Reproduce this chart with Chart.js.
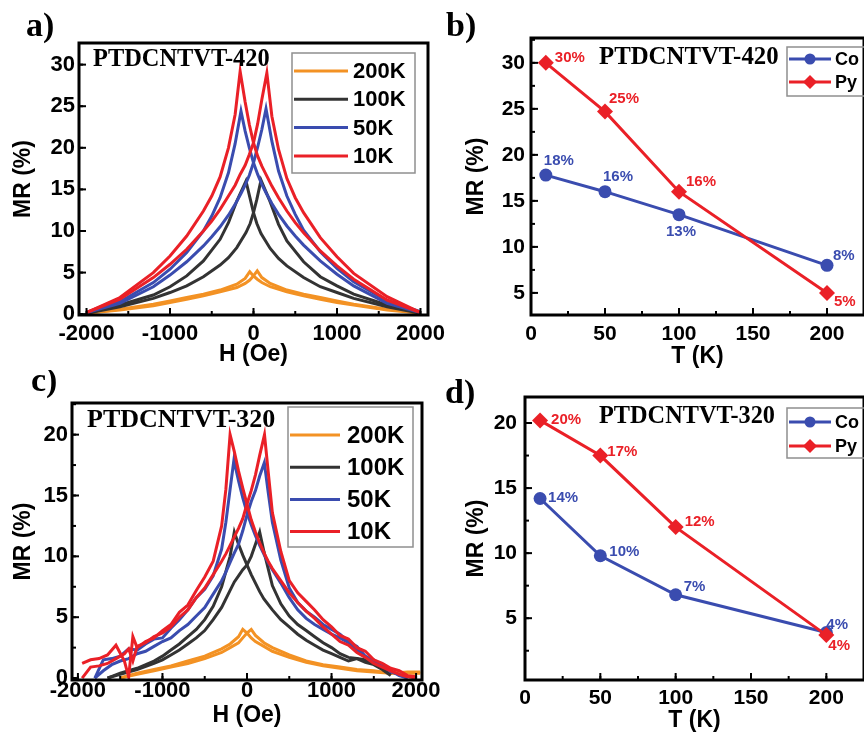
<!DOCTYPE html>
<html>
<head>
<meta charset="utf-8">
<title>MR of PTDCNTVT devices</title>
<script src="https://cdn.jsdelivr.net/npm/chart.js@4.4.1/dist/chart.umd.min.js"></script>
<style>
  html, body { margin: 0; padding: 0; background: #fff; }
  body { width: 864px; height: 735px; overflow: hidden; position: relative; }
  canvas { position: absolute; }
</style>
</head>
<body>
<canvas id="chartA" width="460" height="370" style="left:0;top:0"></canvas>
<canvas id="chartB" width="440" height="370" style="left:432px;top:0"></canvas>
<canvas id="chartC" width="460" height="365" style="left:0;top:370px"></canvas>
<canvas id="chartD" width="440" height="365" style="left:432px;top:370px"></canvas>
<script>
// ---- panel a: PTDCNTVT-420, MR vs H (two sweeps per temperature) ----
const fieldA200 = [-2000,-1600,-1200,-1000,-800,-600,-400,-200,-100,-45,0,45,100,200,400,600,800,1000,1200,1600,2000];
const mrA200Down = [0.1,0.6,1.2,1.6,2.0,2.4,2.9,3.6,4.3,5.1,4.6,4.2,3.8,3.3,2.7,2.2,1.8,1.4,1.1,0.5,0.1];
const mrA200Up   = [0.1,0.5,1.0,1.4,1.8,2.2,2.7,3.2,3.7,4.1,4.6,5.2,4.4,3.7,2.9,2.4,2.0,1.6,1.2,0.6,0.2];

const fieldA100 = [-2000,-1600,-1200,-1000,-800,-600,-400,-300,-200,-90,-40,0,40,90,200,300,400,600,800,1000,1200,1600,2000];
const mrA100Down = [0.1,1.1,2.3,3.3,4.6,6.4,9.0,11.0,13.6,16.0,13.9,12.2,10.9,9.7,7.9,6.7,5.8,4.4,3.3,2.6,1.9,0.9,0.1];
const mrA100Up   = [0.1,0.9,1.9,2.6,3.4,4.5,5.9,6.8,8.0,9.8,10.9,12.2,13.8,16.1,13.5,10.8,8.8,6.3,4.5,3.4,2.4,1.1,0.2];

const fieldA50 = [-2000,-1600,-1200,-1000,-800,-600,-500,-400,-300,-220,-150,-100,-50,0,50,100,150,220,300,400,500,600,800,1000,1200,1600,2000];
const mrA50Down = [0.2,1.5,3.8,5.4,7.4,10.0,11.8,14.0,17.0,20.5,24.4,22.0,20.0,18.2,16.8,15.6,14.6,13.3,12.0,10.6,9.4,8.3,6.4,4.8,3.4,1.3,0.2];
const mrA50Up   = [0.2,1.3,3.3,4.7,6.3,8.2,9.3,10.5,11.9,13.2,14.5,15.5,16.7,18.2,20.1,22.2,24.7,20.8,17.2,14.2,12.0,10.1,7.5,5.5,3.9,1.6,0.3];

const fieldA10 = [-2000,-1600,-1200,-1000,-800,-600,-500,-400,-300,-220,-160,-100,-50,0,50,100,160,220,300,400,500,600,800,1000,1200,1600,2000];
const mrA10Down = [0.2,2.0,5.0,7.0,9.4,12.4,14.2,16.5,20.0,24.0,29.2,25.5,22.8,20.6,19.0,17.8,16.6,15.4,14.0,12.4,11.0,9.8,7.6,5.8,4.2,1.7,0.2];
const mrA10Up   = [0.2,1.8,4.4,6.0,7.8,10.0,11.2,12.6,14.2,15.5,16.8,17.9,19.2,20.6,22.9,25.8,29.0,23.8,19.8,16.3,14.0,12.2,9.2,6.9,4.9,2.1,0.2];

// ---- panel c: PTDCNTVT-320, MR vs H ----
const fieldC200 = [-1500,-1300,-1100,-900,-700,-500,-300,-200,-100,-50,0,50,100,200,300,500,700,900,1100,1300,1500,1700,1900,2050];
const mrC200Down = [0.0,0.4,0.7,1.0,1.4,1.8,2.4,2.8,3.4,4.0,3.7,3.3,3.0,2.6,2.2,1.7,1.3,1.0,0.8,0.6,0.5,0.4,0.4,0.4];
const mrC200Up   = [0.0,0.3,0.6,0.9,1.2,1.6,2.1,2.5,2.9,3.3,3.7,4.0,3.5,2.9,2.5,1.9,1.4,1.1,0.9,0.7,0.6,0.4,0.5,0.5];

const fieldC100 = [-1650,-1500,-1300,-1100,-1000,-900,-800,-700,-600,-500,-400,-300,-200,-150,-100,-50,0,50,100,150,200,300,400,500,600,700,800,900,1000,1100,1200,1300,1400,1500,1600,1700];
const mrC100Down = [0.0,0.4,0.8,1.4,1.8,2.3,2.8,3.4,4.0,4.8,5.9,7.5,10.0,12.0,11.0,10.1,9.3,8.5,7.8,7.1,6.5,5.6,4.8,4.2,3.6,3.1,2.7,2.3,2.0,1.7,1.4,1.6,1.3,1.1,0.7,0.2];
const mrC100Up   = [0.0,0.3,0.7,1.2,1.5,1.9,2.3,2.8,3.3,3.9,4.8,5.8,7.2,7.9,8.4,8.9,9.3,10.0,11.0,12.0,10.4,7.6,6.1,5.1,4.4,3.9,3.4,2.9,2.5,2.0,1.7,1.6,1.5,1.3,0.8,0.3];

const fieldC50 = [-1800,-1700,-1600,-1500,-1400,-1300,-1200,-1100,-1000,-900,-800,-700,-600,-500,-400,-300,-250,-200,-155,-100,-50,0,50,100,150,205,250,300,400,500,600,700,800,900,1000,1100,1200,1300,1400,1500,1600,1700,1800,1900];
const mrC50Down = [0.0,1.5,1.6,1.8,2.4,2.3,2.8,3.2,3.3,4.1,4.8,5.6,6.6,7.3,8.4,10.6,12.8,15.5,17.9,16.2,14.8,13.6,12.6,11.7,10.9,10.1,9.5,8.9,7.8,6.6,5.6,4.9,4.4,4.0,3.6,3.3,2.9,2.3,1.7,1.5,1.0,0.6,0.2,0.0];
const mrC50Up   = [0.0,0.6,1.1,1.4,1.6,2.0,2.2,2.6,3.0,3.3,3.9,4.4,5.1,5.8,6.9,8.0,8.7,9.5,10.2,11.0,12.1,13.4,14.5,15.4,16.6,17.7,15.3,12.8,9.7,7.4,6.2,5.5,5.0,4.4,4.0,3.6,3.0,2.6,1.8,1.4,1.1,0.5,0.3,0.0];

const fieldC10 = [-1950,-1850,-1750,-1650,-1550,-1450,-1400,-1350,-1300,-1200,-1100,-1000,-900,-800,-700,-600,-500,-400,-300,-250,-200,-150,-100,-50,0,50,100,150,207,250,300,400,500,600,700,800,900,1000,1100,1200,1300,1400,1500,1600,1700,1800,1900,2000];
const mrC10Down = [1.2,1.5,1.6,1.9,2.7,1.4,0.1,3.4,2.5,3.0,3.3,3.9,4.4,5.4,6.0,7.2,8.3,9.6,12.5,15.5,20.0,18.6,17.0,15.6,14.3,13.0,12.0,11.1,10.2,9.6,9.0,8.0,7.0,6.2,5.5,4.9,4.2,3.6,3.0,2.7,2.1,1.7,1.2,0.9,0.6,0.3,0.1,0.0];
const mrC10Up   = [0.0,0.9,1.0,1.2,1.6,2.0,2.4,1.4,2.6,2.9,3.4,3.7,4.2,5.0,5.6,6.6,7.4,8.5,9.6,10.2,10.9,11.6,12.3,13.1,14.3,15.4,16.7,18.3,20.0,17.0,13.6,10.4,8.0,7.0,6.3,5.6,4.8,4.2,3.5,3.2,2.5,2.2,1.5,1.2,0.8,0.6,0.2,0.1];

// field tick labels used by panels a and c
const ticksField = [-2000, -1000, 0, 1000, 2000];

// ---- panels b and d: MR vs T for Co and Py electrodes ----
const tempB = [10, 50, 100, 200];
const mrCoB = [17.8, 16.0, 13.5, 8.0];
const mrPyB = [30.0, 24.7, 16.0, 5.0];
const labelsCoB = ['18%', '16%', '13%', '8%'];
const labelsPyB = ['30%', '25%', '16%', '5%'];

const tempD = [10, 50, 100, 200];
const mrCoD = [14.2, 9.8, 6.8, 3.9];
const mrPyD = [20.2, 17.5, 12.0, 3.7];
const labelsCoD = ['14%', '10%', '7%', '4%'];
const labelsPyD = ['20%', '17%', '12%', '4%'];

// where each percent label sits relative to its marker (px)
const offsetsCoB = [[-2,-14], [-2,-15], [-13,17], [6,-9]];
const offsetsPyB = [[9,-5], [4,-13], [7,-10], [7,9]];
const offsetsCoD = [[8,-1], [9,-4], [8,-8], [0,-8]];
const offsetsPyD = [[11,-1], [7,-4], [9,-5], [2,11]];

const ORANGE = '#f39224';
const BLACK = '#333333';
const BLUE = '#3a4caf';
const RED = '#ea2027';
const SANS = '"Liberation Sans", Arial, sans-serif';
const SERIF = '"Liberation Serif", "Times New Roman", serif';

Chart.defaults.font.family = SANS;
Chart.defaults.font.weight = 'bold';
Chart.defaults.color = '#000';

function toPoints(xs, ys) {
    return xs.map((x, i) => ({ x, y: ys[i] }));
}

function branch(label, color, xs, ys, legendOrder) {
    return {
        label, data: toPoints(xs, ys),
        borderColor: color, backgroundColor: color,
        borderWidth: 3, pointRadius: 0, showLine: true, tension: 0,
        legendOrder
    };
}

// frame around the plot and inward tick marks
const framePlugin = {
    id: 'frame',
    afterDraw(chart, args, o) {
        if (!o || !o.xMajor) return;
        const { ctx, chartArea: area, scales: { x, y } } = chart;
        ctx.save();
        ctx.strokeStyle = '#000';
        ctx.lineWidth = 2;
        const marks = (scale, step, len, horizontal) => {
            let k = Math.ceil(scale.min / step);
            for (; k * step <= scale.max; k++) {
                const p = scale.getPixelForValue(k * step);
                ctx.beginPath();
                if (horizontal) { ctx.moveTo(p, area.bottom); ctx.lineTo(p, area.bottom - len); }
                else { ctx.moveTo(area.left, p); ctx.lineTo(area.left + len, p); }
                ctx.stroke();
            }
        };
        marks(x, o.xMinor, 4, true);
        marks(x, o.xMajor, 7, true);
        marks(y, o.yMinor, 4, false);
        marks(y, o.yMajor, 7, false);
        ctx.lineWidth = 3;
        ctx.strokeRect(area.left, area.top, area.right - area.left, area.bottom - area.top);
        ctx.restore();
    }
};

// panel letter and sample name
const panelTextPlugin = {
    id: 'panelText',
    afterDraw(chart, args, o) {
        if (!o || !o.letter) return;
        const ctx = chart.ctx;
        ctx.save();
        ctx.fillStyle = '#000';
        ctx.textBaseline = 'alphabetic';
        ctx.font = `bold ${o.letterSize}px ${SERIF}`;
        ctx.fillText(o.letter, o.letterX, o.letterY);
        ctx.textBaseline = 'middle';
        ctx.font = `bold ${o.sampleSize}px ${SERIF}`;
        ctx.fillText(o.sample, o.sampleX, o.sampleY);
        ctx.restore();
    }
};

// boxed legend inside the plot
const legendBoxPlugin = {
    id: 'legendBox',
    afterDraw(chart, args, o) {
        if (!o || !o.w) return;
        const ctx = chart.ctx;
        const items = chart.data.datasets
            .filter(d => d.legendOrder !== undefined)
            .sort((a, b) => a.legendOrder - b.legendOrder);
        ctx.save();
        ctx.strokeStyle = '#8f8f8f';
        ctx.lineWidth = 1.5;
        ctx.strokeRect(o.x, o.y, o.w, o.h);
        ctx.font = `bold ${o.fontSize}px ${SANS}`;
        ctx.textBaseline = 'middle';
        items.forEach((d, i) => {
            const yy = o.rowY + i * o.rowGap;
            ctx.strokeStyle = d.borderColor;
            ctx.lineWidth = o.lineWidth;
            ctx.beginPath();
            ctx.moveTo(o.lineX, yy);
            ctx.lineTo(o.lineX + o.lineLen, yy);
            ctx.stroke();
            if (d.pointRadius > 0) {
                ctx.fillStyle = d.backgroundColor;
                Chart.helpers.drawPoint(ctx, { pointStyle: d.pointStyle, radius: d.pointRadius - 1, rotation: 0, borderWidth: 0 }, o.lineX + o.lineLen / 2, yy);
            }
            ctx.fillStyle = '#000';
            ctx.fillText(d.label, o.textX, yy + 1);
        });
        ctx.restore();
    }
};

// percent labels next to the markers
const pointLabelPlugin = {
    id: 'pointLabels',
    afterDatasetsDraw(chart) {
        const ctx = chart.ctx;
        chart.data.datasets.forEach((ds, i) => {
            if (!ds.pointLabels) return;
            const meta = chart.getDatasetMeta(i);
            ctx.save();
            ctx.font = `bold 15px ${SANS}`;
            ctx.fillStyle = ds.borderColor;
            ctx.textBaseline = 'middle';
            meta.data.forEach((pt, j) => {
                const [dx, dy] = ds.labelOffsets[j];
                ctx.fillText(ds.pointLabels[j], pt.x + dx, pt.y + dy);
            });
            ctx.restore();
        });
    }
};

Chart.register(framePlugin, panelTextPlugin, legendBoxPlugin, pointLabelPlugin);

function makeOptions(c) {
    return {
        responsive: false,
        animation: false,
        layout: { padding: c.padding },
        plugins: {
            legend: { display: false },
            tooltip: { enabled: false },
            frame: c.frame,
            panelText: c.text,
            legendBox: c.legend
        },
        scales: {
            x: {
                type: 'linear', min: c.xMin, max: c.xMax,
                grid: { display: false, drawTicks: false },
                border: { display: false },
                ticks: {
                    stepSize: c.xStep, includeBounds: false, autoSkip: false, maxRotation: 0,
                    padding: c.xTickPad, font: { size: c.tickSize }, color: '#000',
                    callback: v => String(v)
                },
                afterBuildTicks: s => {
                    if (c.xTicks) s.ticks = c.xTicks.map(v => ({ value: v }));
                },
                title: { display: true, text: c.xTitle, color: '#000', font: { size: 23 }, padding: { top: 0, bottom: c.xTitlePad } },
                afterFit: s => { s.height = c.xHeight; }
            },
            y: {
                type: 'linear', min: c.yMin, max: c.yMax,
                grid: { display: false, drawTicks: false },
                border: { display: false },
                ticks: {
                    stepSize: c.yStep, includeBounds: false, autoSkip: false,
                    padding: c.yTickPad, font: { size: c.tickSize }, color: '#000',
                    callback: v => String(v)
                },
                title: { display: true, text: 'MR (%)', color: '#000', font: { size: 23 }, padding: { top: c.yTitlePad, bottom: 0 } },
                afterFit: s => { s.width = c.yWidth; }
            }
        }
    };
}

// panel a
new Chart(document.getElementById('chartA'), {
    type: 'scatter',
    data: {
        datasets: [
            branch('10K', RED, fieldA10, mrA10Down, 3),
            branch('10K', RED, fieldA10, mrA10Up),
            branch('50K', BLUE, fieldA50, mrA50Down, 2),
            branch('50K', BLUE, fieldA50, mrA50Up),
            branch('100K', BLACK, fieldA100, mrA100Down, 1),
            branch('100K', BLACK, fieldA100, mrA100Up),
            branch('200K', ORANGE, fieldA200, mrA200Down, 0),
            branch('200K', ORANGE, fieldA200, mrA200Up)
        ]
    },
    options: makeOptions({
        padding: { top: 43, right: 32, left: 0, bottom: 0 },
        xMin: -2090, xMax: 2090, xStep: 1000, xTicks: ticksField, yMin: -0.1, yMax: 32.6, yStep: 5,
        xTitle: 'H (Oe)', tickSize: 22, xTickPad: 6, yTickPad: 4,
        xTitlePad: 2, yTitlePad: 10, xHeight: 55, yWidth: 79,
        frame: { xMajor: 1000, xMinor: 500, yMajor: 5, yMinor: 5 },
        text: { letter: 'a)', letterX: 26, letterY: 36, letterSize: 34, sample: 'PTDCNTVT-420', sampleX: 93, sampleY: 60, sampleSize: 24.4 },
        legend: { x: 292, y: 53, w: 123, h: 120, rowY: 71, rowGap: 28.3, lineX: 294, lineLen: 54, lineWidth: 3, textX: 353, fontSize: 22 }
    })
});

// panel b
new Chart(document.getElementById('chartB'), {
    type: 'scatter',
    data: {
        datasets: [
            { label: 'Py', data: toPoints(tempB, mrPyB), borderColor: RED, backgroundColor: RED, borderWidth: 3,
              pointStyle: 'rectRot', pointRadius: 8, pointBorderWidth: 0, showLine: true, legendOrder: 1,
              pointLabels: labelsPyB, labelOffsets: offsetsPyB },
            { label: 'Co', data: toPoints(tempB, mrCoB), borderColor: BLUE, backgroundColor: BLUE, borderWidth: 3,
              pointStyle: 'circle', pointRadius: 6.5, pointBorderWidth: 0, showLine: true, legendOrder: 0,
              pointLabels: labelsCoB, labelOffsets: offsetsCoB }
        ]
    },
    options: makeOptions({
        padding: { top: 38, right: 2, left: 0, bottom: 0 },
        xMin: 0, xMax: 225, xStep: 50, yMin: 2.6, yMax: 32.7, yStep: 5,
        xTitle: 'T (K)', tickSize: 21, xTickPad: 7, yTickPad: 6,
        xTitlePad: 0, yTitlePad: 31, xHeight: 55, yWidth: 99,
        frame: { xMajor: 50, xMinor: 25, yMajor: 5, yMinor: 2.5 },
        text: { letter: 'b)', letterX: 14, letterY: 36, letterSize: 34, sample: 'PTDCNTVT-420', sampleX: 167, sampleY: 58, sampleSize: 24.8 },
        legend: { x: 355, y: 47, w: 120, h: 49, rowY: 59, rowGap: 23, lineX: 357, lineLen: 42, lineWidth: 3, textX: 403, fontSize: 18 }
    })
});

// panel c
new Chart(document.getElementById('chartC'), {
    type: 'scatter',
    data: {
        datasets: [
            branch('10K', RED, fieldC10, mrC10Down, 3),
            branch('10K', RED, fieldC10, mrC10Up),
            branch('50K', BLUE, fieldC50, mrC50Down, 2),
            branch('50K', BLUE, fieldC50, mrC50Up),
            branch('100K', BLACK, fieldC100, mrC100Down, 1),
            branch('100K', BLACK, fieldC100, mrC100Up),
            branch('200K', ORANGE, fieldC200, mrC200Down, 0),
            branch('200K', ORANGE, fieldC200, mrC200Up)
        ]
    },
    options: makeOptions({
        padding: { top: 33, right: 38, left: 0, bottom: 0 },
        xMin: -2070, xMax: 2070, xStep: 1000, xTicks: ticksField, yMin: -0.16, yMax: 22.6, yStep: 5,
        xTitle: 'H (Oe)', tickSize: 22, xTickPad: -2, yTickPad: 4,
        xTitlePad: 6, yTitlePad: 10, xHeight: 55, yWidth: 72,
        frame: { xMajor: 1000, xMinor: 500, yMajor: 5, yMinor: 2.5 },
        text: { letter: 'c)', letterX: 31, letterY: 21, letterSize: 34, sample: 'PTDCNTVT-320', sampleX: 87, sampleY: 50, sampleSize: 26 },
        legend: { x: 288, y: 37, w: 125, h: 140, rowY: 65, rowGap: 32.2, lineX: 290, lineLen: 50, lineWidth: 3, textX: 347, fontSize: 24 }
    })
});

// panel d
new Chart(document.getElementById('chartD'), {
    type: 'scatter',
    data: {
        datasets: [
            { label: 'Py', data: toPoints(tempD, mrPyD), borderColor: RED, backgroundColor: RED, borderWidth: 3,
              pointStyle: 'rectRot', pointRadius: 8, pointBorderWidth: 0, showLine: true, legendOrder: 1,
              pointLabels: labelsPyD, labelOffsets: offsetsPyD },
            { label: 'Co', data: toPoints(tempD, mrCoD), borderColor: BLUE, backgroundColor: BLUE, borderWidth: 3,
              pointStyle: 'circle', pointRadius: 6.5, pointBorderWidth: 0, showLine: true, legendOrder: 0,
              pointLabels: labelsCoD, labelOffsets: offsetsCoD }
        ]
    },
    options: makeOptions({
        padding: { top: 27, right: 2, left: 0, bottom: 0 },
        xMin: 0, xMax: 225, xStep: 50, yMin: 0.25, yMax: 22, yStep: 5,
        xTitle: 'T (K)', tickSize: 21, xTickPad: 6, yTickPad: 8,
        xTitlePad: 1, yTitlePad: 31, xHeight: 55, yWidth: 93,
        frame: { xMajor: 50, xMinor: 25, yMajor: 5, yMinor: 2.5 },
        text: { letter: 'd)', letterX: 13, letterY: 33, letterSize: 34, sample: 'PTDCNTVT-320', sampleX: 167, sampleY: 47, sampleSize: 24.3 },
        legend: { x: 355, y: 38, w: 120, h: 50, rowY: 52, rowGap: 24, lineX: 357, lineLen: 42, lineWidth: 3, textX: 403, fontSize: 18 }
    })
});
</script>
</body>
</html>
